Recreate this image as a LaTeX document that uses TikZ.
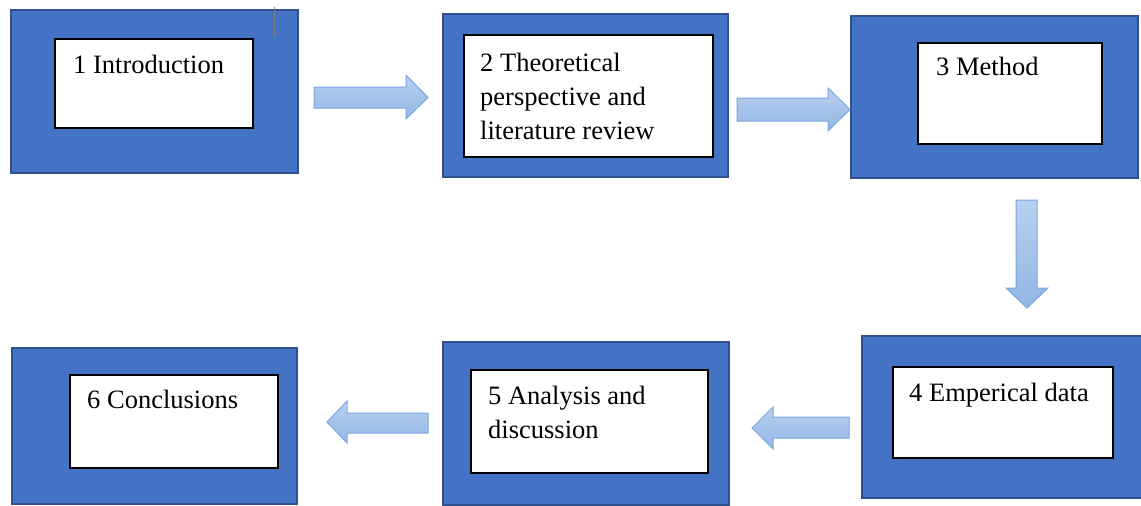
\documentclass[tikz,border=0pt]{standalone}
\usepackage{fontspec}
\setmainfont{Liberation Serif}
\definecolor{boxblue}{RGB}{68,114,196}
\definecolor{boxedge}{RGB}{47,82,143}
\definecolor{arrtop}{RGB}{184,208,238}
\definecolor{arrbot}{RGB}{146,182,228}
\definecolor{arredge}{RGB}{122,168,224}
\begin{document}
\begin{tikzpicture}[x=1pt,y=-1pt,
  outerbox/.style={draw=boxedge, line width=1.5pt, fill=boxblue, anchor=north west, inner sep=0pt},
  innerbox/.style={draw=black, line width=2pt, fill=white, anchor=north west, inner sep=0pt},
  boxtext/.style={anchor=base west, inner sep=0pt, text width=240pt, align=flush left, font=\fontsize{26.5}{34}\selectfont},
  blockarrow/.style={draw=arredge, line width=1pt, top color=arrtop, bottom color=arrbot}]
\useasboundingbox (0,0) rectangle (1141,506);

% Box 1
\node[outerbox, minimum width=287pt, minimum height=163pt] (o1) at (10,9) {};
\node[innerbox, minimum width=198pt, minimum height=89pt] (i1) at (54,38) {};
\node[boxtext] (t1) at (73,73) {1 Introduction};
\draw[gray, line width=1pt] (274,7) -- (274,37);

% Box 2
\node[outerbox, minimum width=285pt, minimum height=163pt] (o2) at (442,13) {};
\node[innerbox, minimum width=249pt, minimum height=122pt] (i2) at (463,34) {};
\node[boxtext] (t2) at (480,71) {2 Theoretical\\perspective and\\literature review};

% Box 3
\node[outerbox, minimum width=287pt, minimum height=162pt] (o3) at (850,15) {};
\node[innerbox, minimum width=184pt, minimum height=101pt] (i3) at (917,42) {};
\node[boxtext] (t3) at (936,75) {3 Method};

% Box 4
\node[outerbox, minimum width=284pt, minimum height=162pt] (o4) at (861,335) {};
\node[innerbox, minimum width=220pt, minimum height=91pt] (i4) at (892,366) {};
\node[boxtext] (t4) at (909,401) {4 Emperical data};

% Box 5
\node[outerbox, minimum width=286pt, minimum height=163pt] (o5) at (442,341) {};
\node[innerbox, minimum width=237pt, minimum height=103pt] (i5) at (470,369) {};
\node[boxtext] (t5) at (488,404) {5 Analysis and\\discussion};

% Box 6
\node[outerbox, minimum width=285pt, minimum height=156pt] (o6) at (11,347) {};
\node[innerbox, minimum width=208pt, minimum height=93pt] (i6) at (69,374) {};
\node[boxtext] (t6) at (87,408) {6 Conclusions};

% Block arrows
\path[blockarrow] (314,87) -- (406,87) -- (406,75) -- (428,97.5) -- (406,119) -- (406,108) -- (314,108) -- cycle;
\path[blockarrow] (737,98) -- (828,98) -- (828,88) -- (850,109.5) -- (828,131) -- (828,121) -- (737,121) -- cycle;
\path[blockarrow] (1016,200) -- (1037,200) -- (1037,288) -- (1048,288) -- (1027,308) -- (1006,288) -- (1016,288) -- cycle;
\path[blockarrow] (849,417) -- (773,417) -- (773,407) -- (752,428) -- (773,449) -- (773,438) -- (849,438) -- cycle;
\path[blockarrow] (428,413) -- (347,413) -- (347,401) -- (327,422) -- (347,443) -- (347,433) -- (428,433) -- cycle;
\end{tikzpicture}
\end{document}
